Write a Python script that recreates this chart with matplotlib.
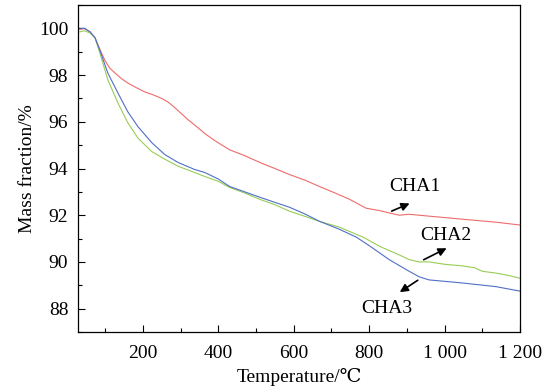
import matplotlib
matplotlib.use("Agg")
import matplotlib.pyplot as plt
from matplotlib.ticker import MultipleLocator

plt.rcParams['font.family'] = ['Liberation Serif', 'DejaVu Serif', 'DejaVu Sans']

# CHA1 (red)
t1 = [33, 45, 60, 73, 86, 99, 112, 126, 143, 160, 184, 205, 228, 250, 268, 285,
      302, 319, 342, 364, 390, 430, 470, 510, 550, 589, 630, 668, 710, 748, 792,
      827, 853, 880, 906, 959, 1047, 1137, 1200]
m1 = [99.95, 100.0, 99.85, 99.6, 99.1, 98.64, 98.3, 98.09, 97.85, 97.66, 97.45,
      97.28, 97.15, 97.0, 96.83, 96.6, 96.35, 96.1, 95.8, 95.5, 95.2, 94.8, 94.55,
      94.26, 94.0, 93.74, 93.5, 93.23, 92.95, 92.68, 92.3, 92.2, 92.1, 92.0, 92.04,
      91.96, 91.83, 91.7, 91.58]

# CHA2 (green)
t2 = [33, 45, 60, 73, 86, 107, 134, 160, 187, 224, 258, 293, 337, 364, 400, 430,
      470, 510, 550, 589, 630, 668, 721, 784, 830, 880, 906, 933, 959, 1000, 1047,
      1080, 1100, 1137, 1170, 1200]
m2 = [99.85, 99.9, 99.8, 99.6, 98.94, 97.8, 96.8, 95.96, 95.3, 94.72, 94.4, 94.1,
      93.83, 93.66, 93.45, 93.19, 92.95, 92.68, 92.45, 92.17, 91.95, 91.74, 91.49,
      91.06, 90.65, 90.3, 90.1, 90.0, 90.0, 89.9, 89.83, 89.75, 89.6, 89.52, 89.42,
      89.3]

# CHA3 (blue)
t3 = [33, 45, 60, 73, 86, 107, 134, 160, 187, 224, 258, 293, 337, 364, 400, 430,
      470, 510, 550, 589, 630, 668, 721, 766, 800, 853, 906, 933, 959, 1047, 1137,
      1200]
m3 = [100.0, 100.0, 99.85, 99.6, 99.06, 98.09, 97.23, 96.43, 95.79, 95.1, 94.6,
      94.26, 93.96, 93.83, 93.55, 93.23, 93.0, 92.77, 92.55, 92.34, 92.05, 91.74,
      91.4, 91.06, 90.7, 90.1, 89.6, 89.36, 89.23, 89.1, 88.94, 88.75]

x_ticks = [200, 400, 600, 800, 1000, 1200]
x_tick_labels = ['200', '400', '600', '800', '1 000', '1 200']
y_ticks = [88, 90, 92, 94, 96, 98, 100]

fig = plt.figure(figsize=(5.49, 3.92), dpi=100)
ax = fig.add_axes([78/549, 1-332/392, (520-78)/549, (332-5)/392])

ax.plot(t1, m1, color='#ee6b6b', lw=0.8)
ax.plot(t2, m2, color='#99cc55', lw=0.8)
ax.plot(t3, m3, color='#4f6fc8', lw=0.8)

ax.set_xlim(28, 1200)
ax.set_ylim(87, 101)
ax.set_xticks(x_ticks)
ax.set_xticklabels(x_tick_labels)
ax.set_yticks(y_ticks)
ax.xaxis.set_minor_locator(MultipleLocator(100))
ax.yaxis.set_minor_locator(MultipleLocator(1))
ax.tick_params(which='both', direction='in', top=False, right=False, labelsize=14, width=0.8)
ax.tick_params(axis='x', which='major', pad=9)
ax.tick_params(axis='y', which='major', pad=7)
ax.tick_params(which='major', length=5)
ax.tick_params(which='minor', length=3)
for s in ax.spines.values():
    s.set_linewidth(0.9)

ax.set_xlabel('Temperature/℃', fontsize=14, labelpad=5)
ax.set_ylabel('Mass fraction/%', fontsize=14, labelpad=2)

ap = dict(arrowstyle='-|>', color='black', lw=1.2, mutation_scale=12)
ax.annotate('', xy=(914, 92.55), xytext=(853, 92.13), arrowprops=ap)
ax.annotate('', xy=(1012, 90.64), xytext=(938, 90.04), arrowprops=ap)
ax.annotate('', xy=(875, 88.64), xytext=(935, 89.28), arrowprops=ap)
ax.text(922, 93.23, 'CHA1', fontsize=14, ha='center', va='center')
ax.text(1004, 91.15, 'CHA2', fontsize=14, ha='center', va='center')
ax.text(848, 88.0, 'CHA3', fontsize=14, ha='center', va='center')

fig.savefig('out.png', dpi=100)
